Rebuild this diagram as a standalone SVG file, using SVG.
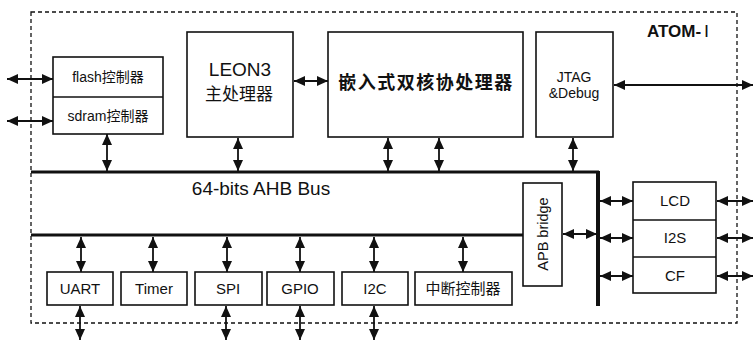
<svg xmlns="http://www.w3.org/2000/svg" width="754" height="340" viewBox="0 0 754 340">
<style>
.box{fill:#fff;stroke:#111;stroke-width:1.6}
.t{font-family:"Liberation Sans",Arial,"Noto Sans CJK SC",sans-serif;fill:#111;text-anchor:middle}
.cjk{font-family:"Noto Sans CJK SC",sans-serif;fill:#111;text-anchor:middle}
.arr{stroke:#111;stroke-width:1.8;fill:none;marker-start:url(#ah);marker-end:url(#ah)}
.bus{stroke:#111;fill:none}
</style>
<defs>
<marker id="ah" markerUnits="userSpaceOnUse" markerWidth="12" markerHeight="10" refX="11" refY="5" orient="auto-start-reverse">
<path d="M0,0 L11,5 L0,10 z" fill="#111"/>
</marker>
</defs>
<rect width="754" height="340" fill="#fff"/>
<g id="frame">
<rect x="31" y="12" width="706" height="311" fill="none" stroke="#111" stroke-width="1.3" stroke-dasharray="4,3"/>
<text x="647" y="37" font-family="Liberation Sans,Arial,sans-serif" font-weight="bold" font-size="17" fill="#111">ATOM-<tspan font-family="Liberation Serif,serif" font-weight="normal" font-size="17" dx="3">Ⅰ</tspan></text>
</g>
<g id="connectors">
<line class="bus" x1="31" y1="172" x2="599" y2="172" stroke-width="3"/>
<line class="bus" x1="31" y1="235" x2="523" y2="235" stroke-width="3"/>
<line class="bus" x1="598" y1="171" x2="598" y2="306" stroke-width="4"/>
<line class="arr" x1="7" y1="79" x2="53" y2="79"/>
<line class="arr" x1="7" y1="121" x2="53" y2="121"/>
<line class="arr" x1="107" y1="134" x2="107" y2="171"/>
<line class="arr" x1="238" y1="138" x2="238" y2="171"/>
<line class="arr" x1="388" y1="138" x2="388" y2="171"/>
<line class="arr" x1="439" y1="138" x2="439" y2="171"/>
<line class="arr" x1="573" y1="138" x2="573" y2="171"/>
<line class="arr" x1="294" y1="81" x2="328" y2="81"/>
<line class="arr" x1="614" y1="85" x2="753" y2="85"/>
<line class="arr" x1="563" y1="234" x2="597" y2="234"/>
<line class="arr" x1="600" y1="201" x2="633" y2="201"/>
<line class="arr" x1="600" y1="238" x2="633" y2="238"/>
<line class="arr" x1="600" y1="276" x2="633" y2="276"/>
<line class="arr" x1="717" y1="201" x2="753" y2="201"/>
<line class="arr" x1="717" y1="238" x2="753" y2="238"/>
<line class="arr" x1="717" y1="276" x2="753" y2="276"/>
<line class="arr" x1="81" y1="237" x2="81" y2="272"/>
<line class="arr" x1="153" y1="237" x2="153" y2="272"/>
<line class="arr" x1="227" y1="237" x2="227" y2="272"/>
<line class="arr" x1="300" y1="237" x2="300" y2="272"/>
<line class="arr" x1="374" y1="237" x2="374" y2="272"/>
<line class="arr" x1="463" y1="237" x2="463" y2="272"/>
<line class="arr" x1="80" y1="306" x2="80" y2="340"/>
<line class="arr" x1="226" y1="306" x2="226" y2="340"/>
<line class="arr" x1="300" y1="306" x2="300" y2="340"/>
<line class="arr" x1="374" y1="306" x2="374" y2="340"/>
</g>
<g id="mem-ctrl">
<rect class="box" x="53" y="57" width="110" height="77"/>
<line x1="53" y1="97" x2="163" y2="97" stroke="#111" stroke-width="1.6"/>
<text class="t" x="108" y="82" font-size="14">flash控制器</text>
<text class="t" x="108" y="121" font-size="14">sdram控制器</text>
</g>
<g id="leon3">
<rect class="box" x="187" y="32" width="106" height="105"/>
<text class="t" x="240" y="76" font-size="19">LEON3</text>
<text class="cjk" x="239" y="100" font-size="17">主处理器</text>
</g>
<g id="coproc">
<rect class="box" x="328" y="32" width="195" height="105"/>
<text class="cjk" x="426" y="89" font-size="18" font-weight="bold" letter-spacing="1.5">嵌入式双核协处理器</text>
</g>
<g id="jtag">
<rect class="box" x="536" y="32" width="77" height="105"/>
<text class="t" x="574" y="82" font-size="14">JTAG</text>
<text class="t" x="574" y="98" font-size="14">&amp;Debug</text>
</g>
<g id="ahb">
<text class="t" x="261" y="195" font-size="19">64-bits AHB Bus</text>
</g>
<g id="apb">
<rect class="box" x="523" y="183" width="39" height="103"/>
<text class="t" transform="translate(548,234) rotate(-90)" font-size="14.5">APB bridge</text>
</g>
<g id="lcd-i2s-cf">
<rect class="box" x="633" y="182" width="83" height="111"/>
<line x1="633" y1="220" x2="716" y2="220" stroke="#111" stroke-width="1.6"/>
<line x1="633" y1="257" x2="716" y2="257" stroke="#111" stroke-width="1.6"/>
<text class="t" x="675" y="206" font-size="15">LCD</text>
<text class="t" x="675" y="243" font-size="15">I2S</text>
<text class="t" x="675" y="281" font-size="15">CF</text>
</g>
<g id="uart"><rect class="box" x="47" y="272" width="66" height="33"/><text class="t" x="80" y="294" font-size="15">UART</text></g>
<g id="timer"><rect class="box" x="121" y="272" width="66" height="33"/><text class="t" x="154" y="294" font-size="15">Timer</text></g>
<g id="spi"><rect class="box" x="195" y="272" width="67" height="33"/><text class="t" x="228" y="294" font-size="15">SPI</text></g>
<g id="gpio"><rect class="box" x="267" y="272" width="67" height="33"/><text class="t" x="300" y="294" font-size="15">GPIO</text></g>
<g id="i2c"><rect class="box" x="342" y="272" width="66" height="33"/><text class="t" x="375" y="294" font-size="15">I2C</text></g>
<g id="intc"><rect class="box" x="415" y="272" width="97" height="33"/><text class="cjk" x="463" y="294" font-size="15">中断控制器</text></g>
</svg>
